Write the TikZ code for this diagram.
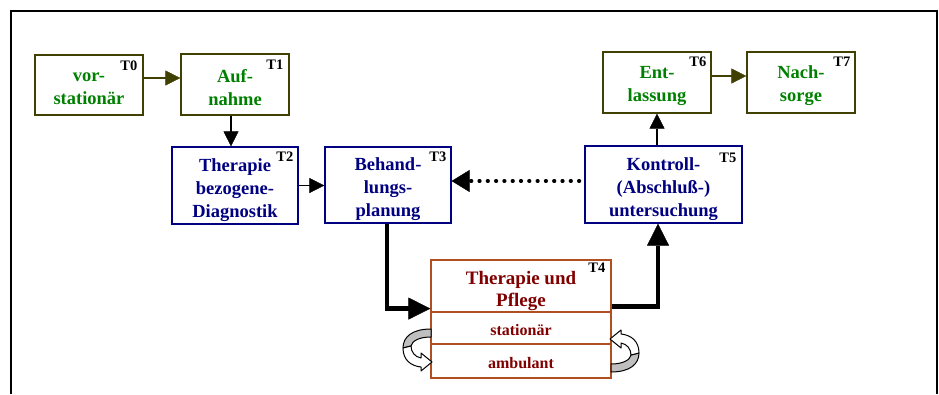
\documentclass[tikz,border=0pt]{standalone}
\usepackage{fontspec}
\setmainfont{Liberation Serif}
\usetikzlibrary{arrows.meta,calc}
\definecolor{olivebox}{RGB}{64,64,0}
\definecolor{textgreen}{RGB}{0,128,0}
\definecolor{navy}{RGB}{0,0,128}
\definecolor{darkred}{RGB}{128,0,0}
\definecolor{siennab}{RGB}{176,80,32}
\begin{document}
\begin{tikzpicture}[x=1pt,y=1pt,
 box/.style={draw,line width=1.2pt,inner sep=0pt},
 gbox/.style={box,draw=olivebox,minimum width=108pt,minimum height=61pt},
 bbox/.style={box,draw=navy,minimum height=77pt},
 rbox/.style={box,draw=siennab,minimum width=180pt},
 btext/.style={inner sep=0pt,align=center,font=\fontsize{18.5}{23}\selectfont\bfseries},
 gtext/.style={btext,text=textgreen},
 ntext/.style={btext,text=navy},
 rtext/.style={btext,text=darkred},
 tlabel/.style={font=\fontsize{14.5}{14.5}\selectfont\bfseries,inner sep=0pt,anchor=north east},
 thinarrow/.style={line width=1.3pt,-{Triangle[length=15pt,width=15pt,line width=0.4pt]}},
 thickarrow/.style={line width=4.5pt,-{Triangle[length=22pt,width=22pt,line width=0.4pt]}},
 dotarrow/.style={line width=3.6pt,line cap=round,dash pattern=on 0.6pt off 7.7pt,-{Triangle[length=18pt,width=22pt,line width=0.4pt]}},
 curlgray/.style={fill=black!25,draw=black,line width=1pt,line join=round},
 curlwhite/.style={fill=white,draw=black,line width=1pt,line join=round}
]
\useasboundingbox (0,0) rectangle (939,-394);
\draw[line width=1.5pt] (11,-394) -- (11,-11) -- (937,-11) -- (937,-394);

% boxes
\node[gbox,minimum height=60pt] (T0) at (89,-85) {};
\node[gbox] (T1) at (235,-84.5) {};
\node[bbox,minimum width=126pt] (T2) at (235,-185.5) {};
\node[bbox,minimum width=126pt,minimum height=76pt] (T3) at (388,-185) {};
\node[bbox,minimum width=157pt] (T5) at (663.5,-184.5) {};
\node[gbox] (T6) at (657,-82.5) {};
\node[gbox] (T7) at (801,-82.5) {};
\node[rbox,minimum height=52pt] (T4) at (521,-286) {};
\node[rbox,minimum height=32pt] (T4a) at (521,-328) {};
\node[rbox,minimum height=34pt] (T4b) at (521,-361) {};

% box texts
\node[gtext] (T0t) at ([yshift=-3.5pt]T0.center) {vor-\\stationär};
\node[gtext] (T1t) at ([yshift=-3.5pt]T1.center) {Auf-\\nahme};
\node[ntext] (T2t) at ([yshift=-4.5pt]T2.center) {Therapie\\bezogene-\\Diagnostik};
\node[ntext] (T3t) at ([yshift=-4.5pt]T3.center) {Behand-\\lungs-\\planung};
\node[ntext] (T5t) at ([yshift=-4.5pt]T5.center) {Kontroll-\\(Abschluß-)\\untersuchung};
\node[gtext] (T6t) at ([yshift=-3.5pt]T6.center) {Ent-\\lassung};
\node[gtext] (T7t) at ([yshift=-3.5pt]T7.center) {Nach-\\sorge};
\node[rtext,font=\fontsize{19}{22}\selectfont\bfseries] (T4t) at ([yshift=-5pt]T4.center) {Therapie und\\Pflege};
\node[rtext,font=\fontsize{16}{18}\selectfont\bfseries] (T4at) at ([yshift=-2.5pt]T4a.center) {stationär};
\node[rtext,font=\fontsize{16}{18}\selectfont\bfseries] (T4bt) at ([yshift=-2pt]T4b.center) {ambulant};

% labels
\node[tlabel] (L0) at ($(T0.north east)+(-6,-6)$) {T0};
\node[tlabel] (L1) at ($(T1.north east)+(-6,-6)$) {T1};
\node[tlabel] (L2) at ($(T2.north east)+(-5,-5)$) {T2};
\node[tlabel] (L3) at ($(T3.north east)+(-5,-5)$) {T3};
\node[tlabel] (L4) at ($(T4.north east)+(-6,-3)$) {T4};
\node[tlabel] (L5) at ($(T5.north east)+(-6,-7)$) {T5};
\node[tlabel] (L6) at ($(T6.north east)+(-5,-5)$) {T6};
\node[tlabel] (L7) at ($(T7.north east)+(-5,-5)$) {T7};

% thin arrows
\draw[thinarrow,draw=olivebox,fill=olivebox] ([yshift=7pt]T0.east) -- ([yshift=7pt]T0.east -| T1.west);
\draw[thinarrow,draw=olivebox,fill=olivebox] ([yshift=6.5pt]T6.east) -- ([yshift=6.5pt]T6.east -| T7.west);
\draw[thinarrow] ([xshift=-4pt]T1.south) -- ([xshift=-4pt]T1.south |- T2.north);
\draw[thinarrow] (T2.east) -- (T2.east -| T3.west);
\draw[thinarrow] (T5.north -| T6.south) -- (T6.south);

% dotted feedback
\draw[dotarrow] ([yshift=3.5pt,xshift=-5pt]T5.west) -- ([yshift=3.5pt]T5.west -| T3.east);

% thick arrows
\draw[thickarrow] ([xshift=-1pt]T3.south) |- ([yshift=4pt]T4.south west);
\draw[thickarrow] ([yshift=6pt]T4.south east) -| ([xshift=-5.5pt]T5.south);

% curved arrows
\path[curlgray] (431,-329) .. controls (412,-329) and (403,-337) .. (403,-348) -- (411,-346) .. controls (412,-341) and (419,-337) .. (431,-337) -- cycle;
\path[curlwhite] (403,-348) .. controls (403,-360) and (411,-366) .. (421,-367) -- (421,-371) -- (432,-362) -- (421,-353) -- (421,-358) .. controls (415,-357) and (411,-352) .. (411,-346) -- cycle;
\begin{scope}[rotate around={180:(521,-350.5)}]
\path[curlgray] (431,-329) .. controls (412,-329) and (403,-337) .. (403,-348) -- (411,-346) .. controls (412,-341) and (419,-337) .. (431,-337) -- cycle;
\path[curlwhite] (403,-348) .. controls (403,-360) and (411,-366) .. (421,-367) -- (421,-371) -- (432,-362) -- (421,-353) -- (421,-358) .. controls (415,-357) and (411,-352) .. (411,-346) -- cycle;
\end{scope}
\end{tikzpicture}
\end{document}
